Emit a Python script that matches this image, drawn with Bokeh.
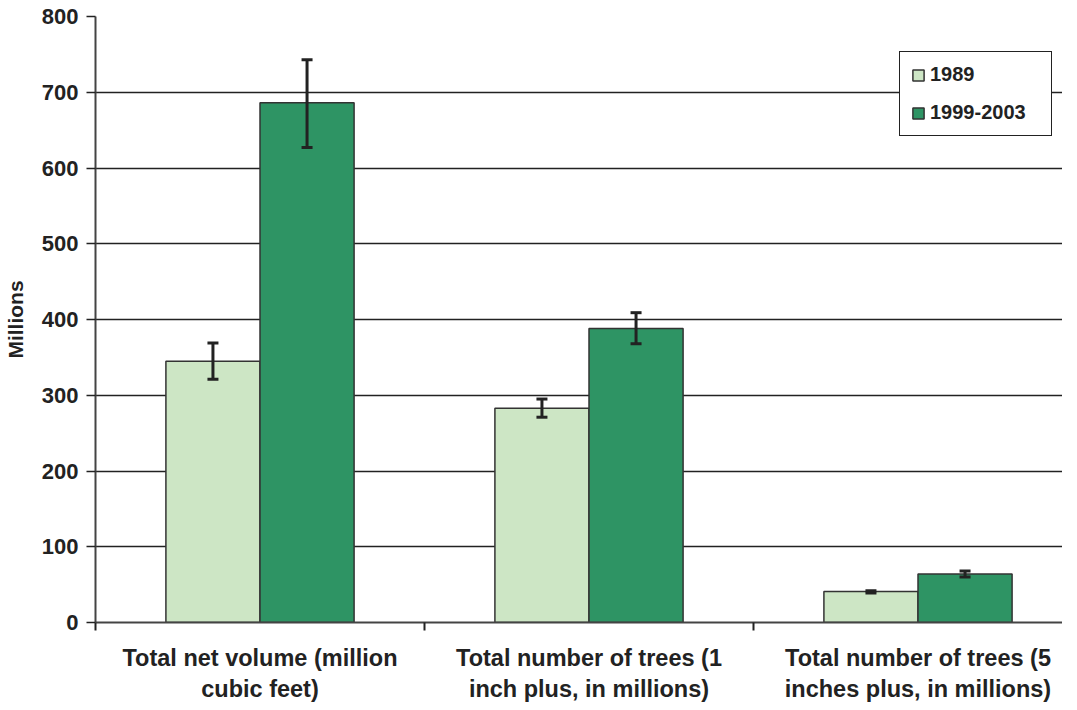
import numpy as np
from bokeh.plotting import figure
from bokeh.models import (ColumnDataSource, FixedTicker, Whisker, TeeHead, Range1d,
                          Legend, LegendItem)
from bokeh.embed import file_html
from bokeh.resources import INLINE

categories = ["Total net volume (million\ncubic feet)",
              "Total number of trees (1\ninch plus, in millions)",
              "Total number of trees (5\ninches plus, in millions)"]
series = ["1989", "1999-2003"]
values_1989 = [345, 283, 41]
values_1999 = [686, 388, 64]
lower_1989 = [321, 271, 39]
upper_1989 = [369, 295, 42]
lower_1999 = [627, 368, 60]
upper_1999 = [743, 409, 68]
y_ticks = [0, 100, 200, 300, 400, 500, 600, 700, 800]

FONT = "Liberation Sans"
LIGHT = "#cde6c5"
DARK = "#2e9464"
EDGE = "#333333"
TXT = "#222222"

idx = np.arange(len(categories)) + 0.5
bw = 0.286
off = 0.143

FW = 967
p = figure(width=1061, height=694, frame_width=FW, frame_height=606,
           min_border_left=94, min_border_top=16, min_border_right=0, min_border_bottom=0,
           x_range=Range1d(0, FW / 329), y_range=Range1d(0, 800),
           output_backend="svg", toolbar_location=None)
p.outline_line_color = None
p.background_fill_color = "white"

p.xgrid.grid_line_color = None
p.ygrid.grid_line_color = "#222222"
p.ygrid.grid_line_width = 1.3
p.ygrid.ticker = FixedTicker(ticks=y_ticks)

src1 = ColumnDataSource(dict(x=idx - off, top=values_1989, lo=lower_1989, hi=upper_1989))
src2 = ColumnDataSource(dict(x=idx + off, top=values_1999, lo=lower_1999, hi=upper_1999))

r1 = p.vbar(x="x", top="top", width=bw, source=src1, fill_color=LIGHT,
            line_color=EDGE, line_width=1.5)
r2 = p.vbar(x="x", top="top", width=bw, source=src2, fill_color=DARK,
            line_color=EDGE, line_width=1.5)

for s in (src1, src2):
    w = Whisker(base="x", upper="hi", lower="lo", source=s, level="overlay",
                line_color="#222222", line_width=3,
                upper_head=TeeHead(size=11, line_color="#222222", line_width=3),
                lower_head=TeeHead(size=11, line_color="#222222", line_width=3))
    p.add_layout(w)

# y axis
p.yaxis.ticker = FixedTicker(ticks=y_ticks)
p.yaxis.axis_label = "Millions"
p.yaxis.axis_label_text_font = FONT
p.yaxis.axis_label_text_font_style = "bold"
p.yaxis.axis_label_text_font_size = "21px"
p.yaxis.axis_label_text_color = TXT
p.yaxis.axis_label_standoff = 12
p.yaxis.major_label_text_font = FONT
p.yaxis.major_label_text_font_style = "bold"
p.yaxis.major_label_text_font_size = "22px"
p.yaxis.major_label_text_color = TXT
p.yaxis.major_label_standoff = 8
p.yaxis.major_tick_out = 9
p.yaxis.major_tick_in = 0
p.yaxis.minor_tick_line_color = None
p.yaxis.axis_line_color = "#444444"
p.yaxis.axis_line_width = 2
p.yaxis.major_tick_line_color = "#222222"
p.yaxis.major_tick_line_width = 1.3

# x axis
p.xaxis.ticker = FixedTicker(ticks=list(idx), minor_ticks=[0, 1, 2, 3])
p.xaxis.major_label_overrides = {float(x): c for x, c in zip(idx, categories)}
p.xaxis.major_label_text_font = FONT
p.xaxis.major_label_text_font_style = "bold"
p.xaxis.major_label_text_font_size = "23.5px"
p.xaxis.major_label_text_color = TXT
p.xaxis.major_label_text_line_height = 1.22
p.xaxis.major_label_standoff = 14
p.xaxis.major_tick_line_color = None
p.xaxis.major_tick_out = 0
p.xaxis.minor_tick_out = 8
p.xaxis.minor_tick_in = 0
p.xaxis.minor_tick_line_color = "#222222"
p.xaxis.minor_tick_line_width = 2
p.xaxis.axis_line_color = "#444444"
p.xaxis.axis_line_width = 2

legend = Legend(items=[LegendItem(label=series[0], renderers=[r1]),
                       LegendItem(label=series[1], renderers=[r2])],
                location=(804, 486))
legend.label_text_font = FONT
legend.label_text_font_style = "bold"
legend.label_text_font_size = "20px"
legend.label_text_color = TXT
legend.glyph_width = 14
legend.glyph_height = 14
legend.label_height = 20
legend.label_width = 110
legend.label_standoff = 5
legend.spacing = 15
legend.padding = 11
legend.margin = 0
legend.border_line_color = "#222222"
legend.border_line_alpha = 1
legend.border_line_width = 1.5
legend.background_fill_alpha = 1
p.add_layout(legend, "center")

open("out.html", "w").write(file_html(p, INLINE))
